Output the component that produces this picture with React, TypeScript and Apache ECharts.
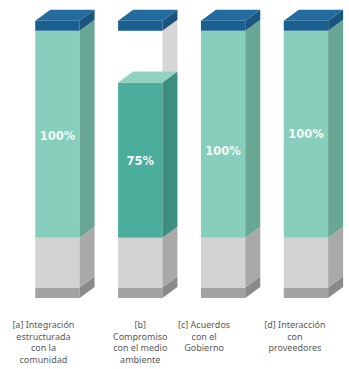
import React, { useEffect, useRef } from "react";
import * as echarts from "echarts";

const categories = [
  "[a] Integración\nestructurada\ncon la\ncomunidad",
  "[b]\nCompromiso\ncon el medio\nambiente",
  "[c] Acuerdos\ncon el\nGobierno",
  "[d] Interacción\ncon\nproveedores",
];
const values = [100, 75, 100, 100];
const valueLabels = ["100%", "75%", "100%", "100%"];
// where the value label sits along each bar (in axis units)
const labelAt = [49, 37, 42, 50];

// structural extents of the 3D columns (axis units)
const BASE_BOTTOM = -29;
const BASE_TOP = -24;
const GRAY_TOP = 0;
const FULL = 100;
const CAP_TOP = 104.8;

const DX = 15;
const DY = 11;

const labelShift = [14, 0, 19, 11];

export default function App() {
  const ref = useRef<HTMLDivElement>(null);
  useEffect(() => {
    document.body.style.margin = "0";
    const chart = echarts.init(ref.current!, undefined, { renderer: "svg" });

    const rich: Record<string, any> = {};
    labelShift.forEach((s, i) => {
      rich["r" + i] = {
        fontSize: 9,
        lineHeight: 11.5,
        color: "#5a5a5a",
        fontFamily: "Noto Sans",
        padding: [0, s * 2, 0, 0],
      };
    });

    const renderItem = (params: any, api: any) => {
      const idx = api.value(0);
      const v = api.value(1);
      const bandW = api.size([1, 0])[0];
      const fw = bandW * 0.535;
      const cx = api.coord([idx, 0])[0];
      const L = cx - fw / 2;
      const R = cx + fw / 2;
      const y = (val: number) => api.coord([idx, val])[1];
      const front = (a: number, b: number, fill: string) => ({
        type: "rect",
        shape: { x: L, y: y(b), width: fw, height: y(a) - y(b) },
        style: { fill },
      });
      const side = (a: number, b: number, fill: string) => ({
        type: "polygon",
        shape: {
          points: [
            [R, y(a)],
            [R + DX, y(a) - DY],
            [R + DX, y(b) - DY],
            [R, y(b)],
          ],
        },
        style: { fill },
      });
      const top = (a: number, fill: string) => ({
        type: "polygon",
        shape: {
          points: [
            [L, y(a)],
            [R, y(a)],
            [R + DX, y(a) - DY],
            [L + DX, y(a) - DY],
          ],
        },
        style: { fill },
      });
      const full = v >= FULL;
      const tealFront = full ? "#87cfbc" : "#4bad9b";
      const tealSide = full ? "#67a793" : "#3c8f80";
      const children: any[] = [
        front(BASE_BOTTOM, BASE_TOP, "#a2a2a2"),
        side(BASE_BOTTOM, BASE_TOP, "#8a8a8a"),
        front(BASE_TOP, GRAY_TOP, "#d3d3d3"),
        side(BASE_TOP, GRAY_TOP, "#a9a9a9"),
      ];
      if (!full) {
        children.push(side(v, FULL, "#d6d6d6"));
      }
      children.push(front(GRAY_TOP, v, tealFront));
      children.push(side(GRAY_TOP, v, tealSide));
      if (!full) {
        children.push(top(v, "#92d2c2"));
      }
      children.push(front(FULL, CAP_TOP, "#1b5f8f"));
      children.push(side(FULL, CAP_TOP, "#19557f"));
      children.push(top(CAP_TOP, "#236c9d"));
      children.push({
        type: "text",
        x: cx,
        y: y(labelAt[idx]),
        style: {
          text: valueLabels[idx],
          fill: "#f4fbf9",
          fontSize: 11.5,
          fontWeight: "bold",
          fontFamily: "DejaVu Sans",
          align: "center",
          verticalAlign: "middle",
        },
      });
      return { type: "group", children };
    };

    chart.setOption({
      animation: false,
      grid: { left: 16, top: 10, width: 344, height: 290 },
      xAxis: {
        type: "category",
        data: categories,
        axisLine: { show: false },
        axisTick: { show: false },
        axisLabel: {
          interval: 0,
          margin: 19,
          formatter: (val: string, i: number) =>
            val
              .split("\n")
              .map((ln) => `{r${i}|${ln}}`)
              .join("\n"),
          rich,
        },
      },
      yAxis: {
        type: "value",
        min: -30,
        max: 110,
        show: false,
        splitLine: { show: false },
      },
      series: [
        {
          type: "custom",
          clip: false,
          renderItem,
          data: values.map((v, i) => [i, v]),
        },
      ],
    });
    return () => chart.dispose();
  }, []);
  return <div ref={ref} style={{ width: 349, height: 369 }} />;
}
